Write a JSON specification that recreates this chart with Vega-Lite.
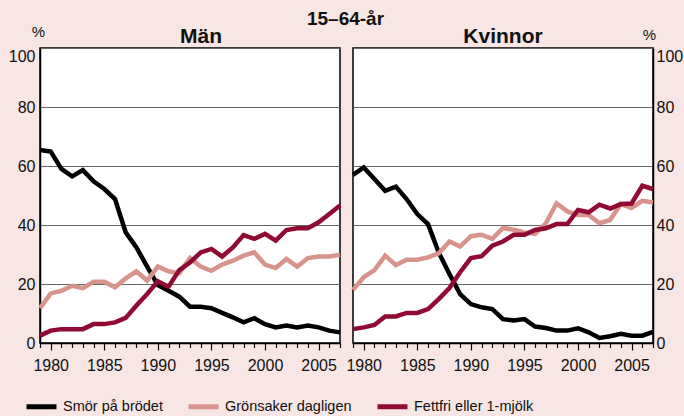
{
  "$schema": "https://vega.github.io/schema/vega-lite/v6.json",
  "background": "#f7e6e4",
  "padding": {"left": 7, "top": 10, "right": 2, "bottom": 0},
  "bounds": "flush",
  "title": {"text": "15–64-år", "fontSize": 19, "font": "Liberation Sans", "fontWeight": "bold", "anchor": "middle", "offset": -6, "color": "#111"},
  "data": {"values": [
    {"panel":"Män","serie":"Smör på brödet","year":1979,"value":65.4},
    {"panel":"Män","serie":"Smör på brödet","year":1980,"value":64.9},
    {"panel":"Män","serie":"Smör på brödet","year":1981,"value":59},
    {"panel":"Män","serie":"Smör på brödet","year":1982,"value":56.5},
    {"panel":"Män","serie":"Smör på brödet","year":1983,"value":58.6},
    {"panel":"Män","serie":"Smör på brödet","year":1984,"value":54.8},
    {"panel":"Män","serie":"Smör på brödet","year":1985,"value":52.2},
    {"panel":"Män","serie":"Smör på brödet","year":1986,"value":48.8},
    {"panel":"Män","serie":"Smör på brödet","year":1987,"value":37.5},
    {"panel":"Män","serie":"Smör på brödet","year":1988,"value":32.4},
    {"panel":"Män","serie":"Smör på brödet","year":1989,"value":25.9},
    {"panel":"Män","serie":"Smör på brödet","year":1990,"value":19.6},
    {"panel":"Män","serie":"Smör på brödet","year":1991,"value":17.7},
    {"panel":"Män","serie":"Smör på brödet","year":1992,"value":15.7},
    {"panel":"Män","serie":"Smör på brödet","year":1993,"value":12.3},
    {"panel":"Män","serie":"Smör på brödet","year":1994,"value":12.3},
    {"panel":"Män","serie":"Smör på brödet","year":1995,"value":11.8},
    {"panel":"Män","serie":"Smör på brödet","year":1996,"value":10.2},
    {"panel":"Män","serie":"Smör på brödet","year":1997,"value":8.7},
    {"panel":"Män","serie":"Smör på brödet","year":1998,"value":7},
    {"panel":"Män","serie":"Smör på brödet","year":1999,"value":8.4},
    {"panel":"Män","serie":"Smör på brödet","year":2000,"value":6.4},
    {"panel":"Män","serie":"Smör på brödet","year":2001,"value":5.3},
    {"panel":"Män","serie":"Smör på brödet","year":2002,"value":5.9},
    {"panel":"Män","serie":"Smör på brödet","year":2003,"value":5.3},
    {"panel":"Män","serie":"Smör på brödet","year":2004,"value":5.9},
    {"panel":"Män","serie":"Smör på brödet","year":2005,"value":5.3},
    {"panel":"Män","serie":"Smör på brödet","year":2006,"value":4.2},
    {"panel":"Män","serie":"Smör på brödet","year":2007,"value":3.6},
    {"panel":"Män","serie":"Grönsaker dagligen","year":1979,"value":11.8},
    {"panel":"Män","serie":"Grönsaker dagligen","year":1980,"value":16.8},
    {"panel":"Män","serie":"Grönsaker dagligen","year":1981,"value":17.7},
    {"panel":"Män","serie":"Grönsaker dagligen","year":1982,"value":19.4},
    {"panel":"Män","serie":"Grönsaker dagligen","year":1983,"value":18.6},
    {"panel":"Män","serie":"Grönsaker dagligen","year":1984,"value":20.8},
    {"panel":"Män","serie":"Grönsaker dagligen","year":1985,"value":20.8},
    {"panel":"Män","serie":"Grönsaker dagligen","year":1986,"value":18.9},
    {"panel":"Män","serie":"Grönsaker dagligen","year":1987,"value":21.9},
    {"panel":"Män","serie":"Grönsaker dagligen","year":1988,"value":24.3},
    {"panel":"Män","serie":"Grönsaker dagligen","year":1989,"value":21.1},
    {"panel":"Män","serie":"Grönsaker dagligen","year":1990,"value":25.9},
    {"panel":"Män","serie":"Grönsaker dagligen","year":1991,"value":24.3},
    {"panel":"Män","serie":"Grönsaker dagligen","year":1992,"value":23.6},
    {"panel":"Män","serie":"Grönsaker dagligen","year":1993,"value":28.8},
    {"panel":"Män","serie":"Grönsaker dagligen","year":1994,"value":25.9},
    {"panel":"Män","serie":"Grönsaker dagligen","year":1995,"value":24.5},
    {"panel":"Män","serie":"Grönsaker dagligen","year":1996,"value":26.6},
    {"panel":"Män","serie":"Grönsaker dagligen","year":1997,"value":27.9},
    {"panel":"Män","serie":"Grönsaker dagligen","year":1998,"value":29.6},
    {"panel":"Män","serie":"Grönsaker dagligen","year":1999,"value":30.7},
    {"panel":"Män","serie":"Grönsaker dagligen","year":2000,"value":26.6},
    {"panel":"Män","serie":"Grönsaker dagligen","year":2001,"value":25.4},
    {"panel":"Män","serie":"Grönsaker dagligen","year":2002,"value":28.5},
    {"panel":"Män","serie":"Grönsaker dagligen","year":2003,"value":25.9},
    {"panel":"Män","serie":"Grönsaker dagligen","year":2004,"value":28.8},
    {"panel":"Män","serie":"Grönsaker dagligen","year":2005,"value":29.3},
    {"panel":"Män","serie":"Grönsaker dagligen","year":2006,"value":29.3},
    {"panel":"Män","serie":"Grönsaker dagligen","year":2007,"value":29.9},
    {"panel":"Män","serie":"Fettfri eller 1-mjölk","year":1979,"value":2.5},
    {"panel":"Män","serie":"Fettfri eller 1-mjölk","year":1980,"value":4.2},
    {"panel":"Män","serie":"Fettfri eller 1-mjölk","year":1981,"value":4.7},
    {"panel":"Män","serie":"Fettfri eller 1-mjölk","year":1982,"value":4.7},
    {"panel":"Män","serie":"Fettfri eller 1-mjölk","year":1983,"value":4.7},
    {"panel":"Män","serie":"Fettfri eller 1-mjölk","year":1984,"value":6.4},
    {"panel":"Män","serie":"Fettfri eller 1-mjölk","year":1985,"value":6.4},
    {"panel":"Män","serie":"Fettfri eller 1-mjölk","year":1986,"value":7},
    {"panel":"Män","serie":"Fettfri eller 1-mjölk","year":1987,"value":8.5},
    {"panel":"Män","serie":"Fettfri eller 1-mjölk","year":1988,"value":12.7},
    {"panel":"Män","serie":"Fettfri eller 1-mjölk","year":1989,"value":16.6},
    {"panel":"Män","serie":"Fettfri eller 1-mjölk","year":1990,"value":20.9},
    {"panel":"Män","serie":"Fettfri eller 1-mjölk","year":1991,"value":19.1},
    {"panel":"Män","serie":"Fettfri eller 1-mjölk","year":1992,"value":24.7},
    {"panel":"Män","serie":"Fettfri eller 1-mjölk","year":1993,"value":27.3},
    {"panel":"Män","serie":"Fettfri eller 1-mjölk","year":1994,"value":30.7},
    {"panel":"Män","serie":"Fettfri eller 1-mjölk","year":1995,"value":31.9},
    {"panel":"Män","serie":"Fettfri eller 1-mjölk","year":1996,"value":29.3},
    {"panel":"Män","serie":"Fettfri eller 1-mjölk","year":1997,"value":32.4},
    {"panel":"Män","serie":"Fettfri eller 1-mjölk","year":1998,"value":36.6},
    {"panel":"Män","serie":"Fettfri eller 1-mjölk","year":1999,"value":35.3},
    {"panel":"Män","serie":"Fettfri eller 1-mjölk","year":2000,"value":37},
    {"panel":"Män","serie":"Fettfri eller 1-mjölk","year":2001,"value":34.7},
    {"panel":"Män","serie":"Fettfri eller 1-mjölk","year":2002,"value":38.3},
    {"panel":"Män","serie":"Fettfri eller 1-mjölk","year":2003,"value":38.9},
    {"panel":"Män","serie":"Fettfri eller 1-mjölk","year":2004,"value":38.9},
    {"panel":"Män","serie":"Fettfri eller 1-mjölk","year":2005,"value":40.9},
    {"panel":"Män","serie":"Fettfri eller 1-mjölk","year":2006,"value":43.7},
    {"panel":"Män","serie":"Fettfri eller 1-mjölk","year":2007,"value":46.6},
    {"panel":"Kvinnor","serie":"Smör på brödet","year":1979,"value":57},
    {"panel":"Kvinnor","serie":"Smör på brödet","year":1980,"value":59.5},
    {"panel":"Kvinnor","serie":"Smör på brödet","year":1981,"value":55.6},
    {"panel":"Kvinnor","serie":"Smör på brödet","year":1982,"value":51.6},
    {"panel":"Kvinnor","serie":"Smör på brödet","year":1983,"value":53},
    {"panel":"Kvinnor","serie":"Smör på brödet","year":1984,"value":48.8},
    {"panel":"Kvinnor","serie":"Smör på brödet","year":1985,"value":43.7},
    {"panel":"Kvinnor","serie":"Smör på brödet","year":1986,"value":40.3},
    {"panel":"Kvinnor","serie":"Smör på brödet","year":1987,"value":30.7},
    {"panel":"Kvinnor","serie":"Smör på brödet","year":1988,"value":23.4},
    {"panel":"Kvinnor","serie":"Smör på brödet","year":1989,"value":16.6},
    {"panel":"Kvinnor","serie":"Smör på brödet","year":1990,"value":13.2},
    {"panel":"Kvinnor","serie":"Smör på brödet","year":1991,"value":12.1},
    {"panel":"Kvinnor","serie":"Smör på brödet","year":1992,"value":11.5},
    {"panel":"Kvinnor","serie":"Smör på brödet","year":1993,"value":8.1},
    {"panel":"Kvinnor","serie":"Smör på brödet","year":1994,"value":7.6},
    {"panel":"Kvinnor","serie":"Smör på brödet","year":1995,"value":8.1},
    {"panel":"Kvinnor","serie":"Smör på brödet","year":1996,"value":5.6},
    {"panel":"Kvinnor","serie":"Smör på brödet","year":1997,"value":5.1},
    {"panel":"Kvinnor","serie":"Smör på brödet","year":1998,"value":4.2},
    {"panel":"Kvinnor","serie":"Smör på brödet","year":1999,"value":4.2},
    {"panel":"Kvinnor","serie":"Smör på brödet","year":2000,"value":5},
    {"panel":"Kvinnor","serie":"Smör på brödet","year":2001,"value":3.6},
    {"panel":"Kvinnor","serie":"Smör på brödet","year":2002,"value":1.7},
    {"panel":"Kvinnor","serie":"Smör på brödet","year":2003,"value":2.3},
    {"panel":"Kvinnor","serie":"Smör på brödet","year":2004,"value":3.1},
    {"panel":"Kvinnor","serie":"Smör på brödet","year":2005,"value":2.5},
    {"panel":"Kvinnor","serie":"Smör på brödet","year":2006,"value":2.5},
    {"panel":"Kvinnor","serie":"Smör på brödet","year":2007,"value":3.8},
    {"panel":"Kvinnor","serie":"Grönsaker dagligen","year":1979,"value":18},
    {"panel":"Kvinnor","serie":"Grönsaker dagligen","year":1980,"value":22.3},
    {"panel":"Kvinnor","serie":"Grönsaker dagligen","year":1981,"value":24.7},
    {"panel":"Kvinnor","serie":"Grönsaker dagligen","year":1982,"value":29.6},
    {"panel":"Kvinnor","serie":"Grönsaker dagligen","year":1983,"value":26.4},
    {"panel":"Kvinnor","serie":"Grönsaker dagligen","year":1984,"value":28.2},
    {"panel":"Kvinnor","serie":"Grönsaker dagligen","year":1985,"value":28.2},
    {"panel":"Kvinnor","serie":"Grönsaker dagligen","year":1986,"value":29},
    {"panel":"Kvinnor","serie":"Grönsaker dagligen","year":1987,"value":30.4},
    {"panel":"Kvinnor","serie":"Grönsaker dagligen","year":1988,"value":34.4},
    {"panel":"Kvinnor","serie":"Grönsaker dagligen","year":1989,"value":32.7},
    {"panel":"Kvinnor","serie":"Grönsaker dagligen","year":1990,"value":36.2},
    {"panel":"Kvinnor","serie":"Grönsaker dagligen","year":1991,"value":36.7},
    {"panel":"Kvinnor","serie":"Grönsaker dagligen","year":1992,"value":35.3},
    {"panel":"Kvinnor","serie":"Grönsaker dagligen","year":1993,"value":39},
    {"panel":"Kvinnor","serie":"Grönsaker dagligen","year":1994,"value":38.4},
    {"panel":"Kvinnor","serie":"Grönsaker dagligen","year":1995,"value":37.5},
    {"panel":"Kvinnor","serie":"Grönsaker dagligen","year":1996,"value":37},
    {"panel":"Kvinnor","serie":"Grönsaker dagligen","year":1997,"value":40.6},
    {"panel":"Kvinnor","serie":"Grönsaker dagligen","year":1998,"value":47.3},
    {"panel":"Kvinnor","serie":"Grönsaker dagligen","year":1999,"value":44.6},
    {"panel":"Kvinnor","serie":"Grönsaker dagligen","year":2000,"value":43.4},
    {"panel":"Kvinnor","serie":"Grönsaker dagligen","year":2001,"value":43.4},
    {"panel":"Kvinnor","serie":"Grönsaker dagligen","year":2002,"value":40.6},
    {"panel":"Kvinnor","serie":"Grönsaker dagligen","year":2003,"value":41.7},
    {"panel":"Kvinnor","serie":"Grönsaker dagligen","year":2004,"value":47.1},
    {"panel":"Kvinnor","serie":"Grönsaker dagligen","year":2005,"value":45.8},
    {"panel":"Kvinnor","serie":"Grönsaker dagligen","year":2006,"value":48.2},
    {"panel":"Kvinnor","serie":"Grönsaker dagligen","year":2007,"value":47.6},
    {"panel":"Kvinnor","serie":"Fettfri eller 1-mjölk","year":1979,"value":4.7},
    {"panel":"Kvinnor","serie":"Fettfri eller 1-mjölk","year":1980,"value":5.3},
    {"panel":"Kvinnor","serie":"Fettfri eller 1-mjölk","year":1981,"value":6.1},
    {"panel":"Kvinnor","serie":"Fettfri eller 1-mjölk","year":1982,"value":9},
    {"panel":"Kvinnor","serie":"Fettfri eller 1-mjölk","year":1983,"value":9},
    {"panel":"Kvinnor","serie":"Fettfri eller 1-mjölk","year":1984,"value":10.2},
    {"panel":"Kvinnor","serie":"Fettfri eller 1-mjölk","year":1985,"value":10.2},
    {"panel":"Kvinnor","serie":"Fettfri eller 1-mjölk","year":1986,"value":11.5},
    {"panel":"Kvinnor","serie":"Fettfri eller 1-mjölk","year":1987,"value":14.9},
    {"panel":"Kvinnor","serie":"Fettfri eller 1-mjölk","year":1988,"value":18.6},
    {"panel":"Kvinnor","serie":"Fettfri eller 1-mjölk","year":1989,"value":24},
    {"panel":"Kvinnor","serie":"Fettfri eller 1-mjölk","year":1990,"value":28.8},
    {"panel":"Kvinnor","serie":"Fettfri eller 1-mjölk","year":1991,"value":29.4},
    {"panel":"Kvinnor","serie":"Fettfri eller 1-mjölk","year":1992,"value":33},
    {"panel":"Kvinnor","serie":"Fettfri eller 1-mjölk","year":1993,"value":34.4},
    {"panel":"Kvinnor","serie":"Fettfri eller 1-mjölk","year":1994,"value":36.7},
    {"panel":"Kvinnor","serie":"Fettfri eller 1-mjölk","year":1995,"value":36.7},
    {"panel":"Kvinnor","serie":"Fettfri eller 1-mjölk","year":1996,"value":38.3},
    {"panel":"Kvinnor","serie":"Fettfri eller 1-mjölk","year":1997,"value":38.9},
    {"panel":"Kvinnor","serie":"Fettfri eller 1-mjölk","year":1998,"value":40.3},
    {"panel":"Kvinnor","serie":"Fettfri eller 1-mjölk","year":1999,"value":40.3},
    {"panel":"Kvinnor","serie":"Fettfri eller 1-mjölk","year":2000,"value":45.1},
    {"panel":"Kvinnor","serie":"Fettfri eller 1-mjölk","year":2001,"value":44.3},
    {"panel":"Kvinnor","serie":"Fettfri eller 1-mjölk","year":2002,"value":46.9},
    {"panel":"Kvinnor","serie":"Fettfri eller 1-mjölk","year":2003,"value":45.6},
    {"panel":"Kvinnor","serie":"Fettfri eller 1-mjölk","year":2004,"value":47.1},
    {"panel":"Kvinnor","serie":"Fettfri eller 1-mjölk","year":2005,"value":47.3},
    {"panel":"Kvinnor","serie":"Fettfri eller 1-mjölk","year":2006,"value":53.3},
    {"panel":"Kvinnor","serie":"Fettfri eller 1-mjölk","year":2007,"value":52.2}
  ]},
  "spacing": 13,
  "hconcat": [
    {
      "width": 300, "height": 295,
      "title": {"text": "Män", "dx": 11, "offset": -23},
      "transform": [{"filter": "datum.panel === 'Män'"}],
      "mark": {"type": "line", "strokeWidth": 4.5, "strokeCap": "butt"},
      "encoding": {
        "x": {"field": "year", "type": "quantitative", "scale": {"domain": [1979, 2007], "nice": false, "zero": false},
              "axis": {"title": null, "values": [1979,1980,1981,1982,1983,1984,1985,1986,1987,1988,1989,1990,1991,1992,1993,1994,1995,1996,1997,1998,1999,2000,2001,2002,2003,2004,2005,2006,2007],
                       "labelExpr": "datum.value % 5 === 0 ? datum.value : ''", "labelOverlap": false, "labelFlush": false,
                       "tickSize": {"condition": {"test": "datum.value % 5 === 0", "value": 7}, "value": 4.5}}},
        "y": {"field": "value", "type": "quantitative", "scale": {"domain": [0, 100], "nice": false},
              "axis": {"orient": "left", "title": "%", "titleX": -2, "titleY": -12, "values": [0,20,40,60,80,100], "labelFlush": false,
                       "labelBaseline": {"condition": {"test": "datum.value === 100", "value": "top"}, "value": "middle"},
                       "labelPadding": 5}},
        "color": {"field": "serie", "type": "nominal", "sort": null,
                  "scale": {"domain": ["Smör på brödet", "Grönsaker dagligen", "Fettfri eller 1-mjölk"], "range": ["#000000", "#d8938c", "#900a33"]},
                  "legend": {"title": null, "orient": "none", "direction": "horizontal", "legendX": -16, "legendY": 341}}
      }
    },
    {
      "width": 300, "height": 295,
      "title": {"text": "Kvinnor", "offset": -20},
      "transform": [{"filter": "datum.panel === 'Kvinnor'"}],
      "mark": {"type": "line", "strokeWidth": 4.5, "strokeCap": "butt"},
      "encoding": {
        "x": {"field": "year", "type": "quantitative", "scale": {"domain": [1979, 2007], "nice": false, "zero": false},
              "axis": {"title": null, "values": [1979,1980,1981,1982,1983,1984,1985,1986,1987,1988,1989,1990,1991,1992,1993,1994,1995,1996,1997,1998,1999,2000,2001,2002,2003,2004,2005,2006,2007],
                       "labelExpr": "datum.value % 5 === 0 ? datum.value : ''", "labelOverlap": false, "labelFlush": false,
                       "tickSize": {"condition": {"test": "datum.value % 5 === 0", "value": 7}, "value": 4.5}}},
        "y": {"field": "value", "type": "quantitative", "scale": {"domain": [0, 100], "nice": false},
              "axis": {"orient": "right", "title": "%", "titleX": -4, "titleY": -9, "values": [0,20,40,60,80,100], "labelFlush": false,
                       "labelBaseline": {"condition": {"test": "datum.value === 100", "value": "top"}, "value": "middle"},
                       "labelPadding": 3}},
        "color": {"field": "serie", "type": "nominal", "sort": null,
                  "scale": {"domain": ["Smör på brödet", "Grönsaker dagligen", "Fettfri eller 1-mjölk"], "range": ["#000000", "#d8938c", "#900a33"]},
                  "legend": {"title": null, "orient": "none", "direction": "horizontal", "legendX": -16, "legendY": 341}}
      }
    }
  ],
  "config": {
    "view": {"fill": "white", "stroke": "#000", "strokeWidth": 1.5},
    "title": {"font": "Liberation Sans", "fontSize": 21, "fontWeight": "bold", "color": "#111", "offset": 5},
    "axis": {
      "labelFont": "Liberation Sans", "labelFontSize": 16, "labelColor": "#111",
      "domainColor": "#000", "domainWidth": 1.5, "tickColor": "#000", "tickWidth": 1.2,
      "titleFont": "Liberation Sans", "titleFontSize": 15, "titleFontWeight": "normal", "titleColor": "#111",
      "titleAngle": 0, "titleAlign": "center", "titleBaseline": "alphabetic"
    },
    "axisX": {"grid": false, "labelPadding": 7},
    "axisY": {"grid": true, "gridColor": "#666", "gridWidth": 1, "ticks": false, "domain": true},
    "legend": {
      "labelFont": "Liberation Sans", "labelFontSize": 14.5, "labelColor": "#111",
      "symbolType": "stroke", "symbolSize": 900, "symbolStrokeWidth": 5, "labelOffset": 4, "columnPadding": 15, "padding": 0
    }
  }
}
